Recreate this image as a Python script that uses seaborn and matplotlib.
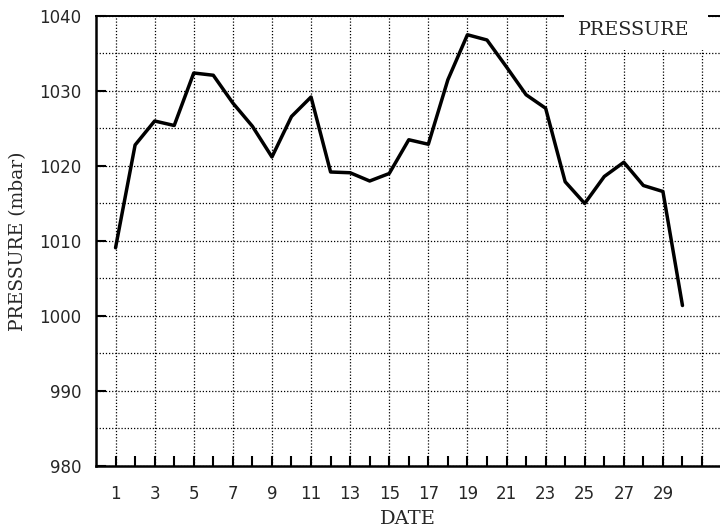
import matplotlib
matplotlib.use("Agg")
import matplotlib.pyplot as plt
import seaborn as sns
import pandas as pd
from matplotlib.patches import Rectangle
from matplotlib.ticker import MultipleLocator, FixedLocator

# ---- data ----
days = list(range(1, 31))
pressure = [1009.1, 1022.8, 1026.0, 1025.4, 1032.4, 1032.1, 1028.4, 1025.3, 1021.2, 1026.6,
            1029.2, 1019.2, 1019.1, 1018.0, 1019.0, 1023.5, 1022.9, 1031.5, 1037.5, 1036.8,
            1033.2, 1029.5, 1027.7, 1017.9, 1015.0, 1018.6, 1020.5, 1017.4, 1016.6, 1001.4]
series_label = "PRESSURE"
xtick_days = list(range(1, 32, 2))
xtick_labels = [str(d) for d in range(1, 30, 2)] + [""]
minor_days = list(range(2, 31, 2))
ytick_values = [980, 990, 1000, 1010, 1020, 1030, 1040]
x_label = "DATE"
y_label = "PRESSURE (mbar)"

df = pd.DataFrame({"day": days, "pressure": pressure})

sns.set_style("white")
plt.rcParams["font.family"] = ["DejaVu Sans"]

fig = plt.figure(figsize=(7.2, 5.31), dpi=100)
ax = fig.add_axes([96 / 720, 65 / 531, 624 / 720, 450 / 531])

sns.lineplot(data=df, x="day", y="pressure", ax=ax, color="black", linewidth=2.5,
             label=series_label, zorder=3)

ax.set_xlim(0, 31.92)
ax.set_ylim(980, 1040)

ax.xaxis.set_major_locator(FixedLocator(xtick_days))
ax.set_xticklabels(xtick_labels)
ax.xaxis.set_minor_locator(FixedLocator(minor_days))
ax.set_yticks(ytick_values)
ax.yaxis.set_minor_locator(MultipleLocator(5))

ax.tick_params(axis="x", which="both", direction="in", length=7, width=1.5,
               color="black", labelsize=12, pad=13.5, bottom=True, top=False)
ax.tick_params(axis="y", which="major", direction="in", length=7, width=1.5,
               color="black", labelsize=12, pad=10.5, left=True, right=False)
ax.tick_params(axis="y", which="minor", length=0, left=False)

grid_style = dict(color="black", linewidth=0.9, linestyle=(0, (1, 1.5)))
ax.grid(True, axis="x", which="major", **grid_style)
ax.grid(True, axis="y", which="both", **grid_style)
ax.grid(False, axis="x", which="minor")
ax.set_axisbelow(True)

for side in ["left", "bottom", "top"]:
    ax.spines[side].set_visible(True)
    ax.spines[side].set_color("black")
ax.spines["left"].set_linewidth(1.8)
ax.spines["bottom"].set_linewidth(1.8)
ax.spines["top"].set_linewidth(1.4)
ax.spines["right"].set_visible(False)

ax.set_xlabel(x_label, family="DejaVu Serif", fontsize=14, labelpad=5)
ax.set_ylabel(y_label, family="DejaVu Serif", fontsize=13.5, labelpad=9)

# white box behind the legend that interrupts the top frame
ax.add_patch(Rectangle((0.75, 0.925), 0.231, 0.095, transform=ax.transAxes,
                       facecolor="white", edgecolor="none", clip_on=False, zorder=4))
leg = ax.legend(loc="center", bbox_to_anchor=(0.861, 0.969), frameon=False,
                handlelength=0, handletextpad=0, borderpad=0,
                prop={"family": "DejaVu Serif", "size": 13.8})
for h in leg.legend_handles:
    h.set_visible(False)
leg.set_zorder(5)

fig.savefig("out.png", dpi=100)
